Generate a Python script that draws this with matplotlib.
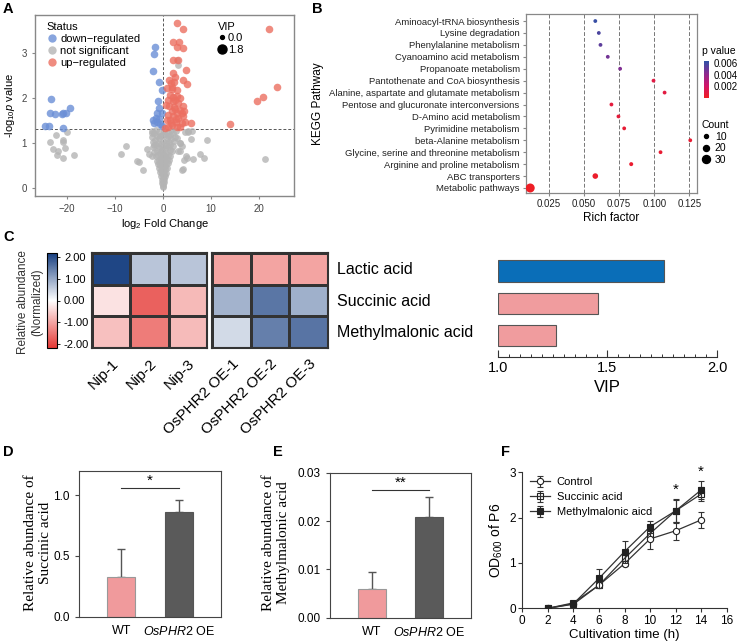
import matplotlib
matplotlib.use('Agg')
import matplotlib.pyplot as plt
import numpy as np
from matplotlib.colors import LinearSegmentedColormap, Normalize
from matplotlib.cm import ScalarMappable
from matplotlib.lines import Line2D

plt.rcParams['font.family'] = ['Liberation Sans', 'DejaVu Sans']
plt.rcParams['mathtext.fontset'] = 'custom'
plt.rcParams['mathtext.rm'] = 'Liberation Sans'
plt.rcParams['mathtext.it'] = 'Liberation Sans:italic'

# ---------------- data ----------------
# A: volcano plot (log2 fold change, -log10 p)
up_pts = [(2.85, 3.66), (4.10, 3.53), (2.15, 3.25), (3.40, 3.23), (2.85, 3.14), (4.10, 3.10),
          (2.01, 2.84), (3.19, 2.83), (4.79, 2.62), (2.15, 2.56), (2.50, 2.46), (2.29, 2.36),
          (4.10, 2.40), (4.93, 2.31), (0.90, 2.21), (1.81, 2.19), (2.85, 2.18), (1.46, 2.07),
          (2.15, 2.01), (1.11, 1.96), (3.54, 1.99), (2.01, 1.92), (3.19, 1.88), (4.10, 1.81),
          (1.32, 1.81), (2.29, 1.79), (1.81, 1.70), (2.85, 1.67), (3.89, 1.66), (1.11, 1.62),
          (2.15, 1.59), (3.19, 1.55), (4.24, 1.59), (1.46, 1.50), (2.71, 1.47), (3.89, 1.45),
          (0.76, 1.51), (1.81, 1.40), (2.85, 1.36), (1.11, 1.36), (3.54, 1.35), (5.76, 1.44),
          (4.58, 1.47), (2.50, 1.96), (1.60, 2.33), (0.50, 1.34), (1.60, 1.45), (2.40, 1.75),
          (3.00, 2.05), (1.30, 2.40), (2.60, 1.52), (3.60, 1.72), (0.60, 1.85), (4.40, 1.70),
          (1.90, 2.25), (13.96, 1.41), (19.65, 1.93), (20.76, 2.01), (23.68, 2.25), (22.15, 3.53)]
down_pts = [(-1.67, 3.14), (-1.81, 2.97), (-2.01, 2.59), (-0.76, 2.36), (-0.28, 2.18),
            (-1.11, 1.94), (-0.76, 1.77), (-1.32, 1.66), (-0.28, 1.66), (-2.15, 1.51),
            (-1.18, 1.47), (-1.88, 1.44), (-0.63, 1.42), (-0.28, 1.38), (-0.83, 1.53),
            (-1.46, 1.55), (-23.4, 1.97), (-23.5, 1.67), (-22.5, 1.64), (-21.1, 1.64),
            (-20.8, 1.66), (-20.2, 1.66), (-19.5, 1.77), (-24.6, 1.38), (-23.7, 1.38),
            (-20.9, 1.33)]
ns_pts = [(-20.1, 1.25), (-22.3, 1.18), (-20.9, 1.07), (-20.8, 1.03), (-23.5, 1.03), (-23.0, 0.86),
          (-21.9, 0.83), (-20.4, 0.88), (-22.1, 0.73), (-20.9, 0.66), (-18.5, 0.73), (-8.75, 0.75),
          (-7.7, 0.94), (-5.5, 0.60), (-5.0, 0.58), (-4.1, 0.40), (3.9, 0.40), (4.4, 0.62),
          (6.3, 0.64), (7.6, 0.75), (9.1, 1.07), (6.0, 1.27), (5.2, 1.27), (3.0, 2.84),
          (3.05, 2.73), (4.6, 1.25), (5.1, 1.25), (5.8, 1.09), (8.5, 0.67), (4.9, 0.67),
          (4.7, 0.70), (21.3, 0.65), (4.2, 0.42), (3.5, 0.81), (3.6, 1.00), (-3.4, 0.86),
          (-2.9, 0.76), (-2.4, 0.70), (-1.9, 0.96), (-2.4, 1.21), (2.85, 1.10), (3.5, 0.99),
          (3.2, 0.81), (3.9, 0.92),
          (-0.05, 0.02), (0.06, 0.04), (0.0, 0.08), (-0.15, 0.11), (0.18, 0.13), (-0.3, 0.18),
          (0.25, 0.20), (0.05, 0.22), (-0.45, 0.26), (0.42, 0.27), (-0.12, 0.30), (0.6, 0.33),
          (-0.6, 0.35), (0.15, 0.36), (-0.35, 0.40), (0.38, 0.42), (-0.8, 0.44), (0.82, 0.45),
          (0.0, 0.47), (-0.55, 0.50), (0.55, 0.52), (-1.0, 0.53), (1.05, 0.55), (-0.2, 0.56),
          (0.25, 0.58), (-1.25, 0.60), (1.3, 0.62), (-0.75, 0.63), (0.8, 0.65), (-0.4, 0.67),
          (0.45, 0.68), (-1.5, 0.70), (1.55, 0.71), (-1.05, 0.73), (1.1, 0.74), (0.05, 0.75),
          (-0.6, 0.77), (0.65, 0.78), (-1.8, 0.80), (1.85, 0.81), (-1.3, 0.83), (1.35, 0.84),
          (-0.25, 0.85), (0.3, 0.87), (-0.9, 0.88), (0.95, 0.90), (-2.0, 0.91), (2.1, 0.93),
          (-1.5, 0.95), (1.55, 0.96), (-0.5, 0.97), (0.55, 0.99), (-1.1, 1.00), (1.2, 1.01),
          (-2.2, 1.03), (2.3, 1.04), (0.0, 1.05), (-1.7, 1.07), (1.75, 1.08), (-0.8, 1.10),
          (0.85, 1.11), (-2.35, 1.13), (2.5, 1.14), (-1.3, 1.16), (1.4, 1.17), (-0.3, 1.18),
          (0.35, 1.20), (-1.95, 1.21), (2.0, 1.22), (-0.95, 1.24), (1.0, 1.25), (-2.4, 1.26),
          (2.6, 1.27), (-1.5, 1.28), (1.6, 1.28), (0.1, 1.27), (-0.1, 0.15), (0.1, 0.28),
          (-0.2, 0.38), (0.3, 0.48), (-0.35, 0.62), (0.2, 0.70), (-0.15, 0.90), (0.7, 0.95),
          (-0.65, 1.15), (1.1, 1.15)]

# B: KEGG enrichment
pathways = ['Aminoacyl-tRNA biosynthesis', 'Lysine degradation', 'Phenylalanine metabolism',
            'Cyanoamino acid metabolism', 'Propanoate metabolism',
            'Pantothenate and CoA biosynthesis', 'Alanine, aspartate and glutamate metabolism',
            'Pentose and glucuronate interconversions', 'D-Amino acid metabolism',
            'Pyrimidine metabolism', 'beta-Alanine metabolism',
            'Glycine, serine and threonine metabolism', 'Arginine and proline metabolism',
            'ABC transporters', 'Metabolic pathways']
rich = [0.058, 0.0605, 0.0617, 0.0669, 0.0757, 0.0995, 0.1074, 0.0695, 0.0745, 0.0786,
        0.1257, 0.1045, 0.0836, 0.058, 0.0116]
pvals = [0.0062, 0.0057, 0.0053, 0.0048, 0.0045, 0.0010, 0.0009, 0.0008, 0.0007, 0.0006,
         0.0005, 0.0005, 0.0004, 0.0003, 0.0001]
counts = [9, 9, 9, 9, 9, 9, 9, 9, 9, 9, 9, 9, 10, 18, 35]

# C: heatmap + VIP
metabolites = ['Lactic acid', 'Succinic acid', 'Methylmalonic acid']
samples = ['Nip-1', 'Nip-2', 'Nip-3', 'OsPHR2 OE-1', 'OsPHR2 OE-2', 'OsPHR2 OE-3']
heat = [[2.10, 0.66, 0.66, -1.00, -1.00, -1.00],
        [-0.31, -1.74, -0.77, 0.87, 1.56, 0.91],
        [-0.70, -1.45, -0.75, 0.42, 1.45, 1.58]]
vip = [1.757, 1.455, 1.264]

# D / E
groups = ['WT', r'$\it{OsPHR2}$ OE']
succ_mean = [0.325, 0.86]
succ_err = [0.233, 0.096]
mma_mean = [0.0059, 0.0209]
mma_err = [0.0035, 0.0040]

# F: growth curves
hours = [2, 4, 6, 8, 10, 12, 14]
ctrl = [0.0, 0.09, 0.51, 0.985, 1.53, 1.71, 1.95]
ctrl_err = [0.0, 0.03, 0.04, 0.05, 0.22, 0.20, 0.18]
succ = [0.0, 0.12, 0.51, 1.10, 1.65, 2.15, 2.52]
succ_err2 = [0.0, 0.03, 0.05, 0.08, 0.15, 0.25, 0.15]
mma = [0.0, 0.10, 0.66, 1.25, 1.80, 2.15, 2.61]
mma_err2 = [0.0, 0.03, 0.21, 0.24, 0.13, 0.27, 0.20]

# ---------------- figure ----------------
W, H = 738, 643
fig = plt.figure(figsize=(W / 100, H / 100), dpi=100)


def px_axes(l, t, r, b):
    return fig.add_axes([l / W, 1 - b / H, (r - l) / W, (b - t) / H])


def panel_label(x, y, s):
    fig.text(x / W, 1 - y / H, s, fontsize=10.5, fontweight='bold', ha='left', va='center')


# ---- A ----
axA = px_axes(35, 15, 294, 196)
ns = np.array(ns_pts)
dn = np.array(down_pts)
up = np.array(up_pts)
axA.scatter(ns[:, 0], ns[:, 1], s=24, color='#B4B4B4', alpha=0.8, lw=0, zorder=2)
axA.scatter(dn[:, 0], dn[:, 1], s=30, color='#6B8FD6', alpha=0.8, lw=0, zorder=3)
axA.scatter(up[:, 0], up[:, 1], s=30, color='#EC6F61', alpha=0.8, lw=0, zorder=3)
axA.axhline(1.3, ls=(0, (3, 2)), color='#555', lw=0.7, zorder=1)
axA.axvline(0, ls=(0, (3, 2)), color='#555', lw=0.7, zorder=1)
axA.set_xlim(-26.7, 27.3)
axA.set_ylim(-0.18, 3.84)
axA.set_xticks([-20, -10, 0, 10, 20])
axA.set_yticks([0, 1, 2, 3])
for s in axA.spines.values():
    s.set_color('#888')
    s.set_linewidth(1.0)
axA.tick_params(colors='#888', labelcolor='#444', labelsize=7, length=2.5)
axA.set_xlabel(r'log$_2$ Fold Change', fontsize=8, labelpad=2)
axA.set_ylabel(r'-log$_{10}$$\it{p}$ value', fontsize=8, labelpad=3)
h1 = [Line2D([], [], marker='o', ls='', color=c, alpha=0.8, ms=6, mew=0)
      for c in ['#6B8FD6', '#B4B4B4', '#EC6F61']]
leg1 = axA.legend(h1, ['down\u2212regulated', 'not significant', 'up\u2212regulated'],
                  title='Status', loc='upper left', bbox_to_anchor=(0.02, 1.0),
                  frameon=False, fontsize=8, title_fontsize=8, alignment='left',
                  handletextpad=0.2, labelspacing=0.2, borderaxespad=0.2, handlelength=1.0)
axA.add_artist(leg1)
h2 = [Line2D([], [], marker='o', ls='', color='black', ms=m) for m in [2.8, 6.5]]
axA.legend(h2, ['0.0', '1.8'], title='VIP', loc='upper left', bbox_to_anchor=(0.68, 1.0),
           frameon=False, fontsize=8, title_fontsize=8, alignment='left',
           handletextpad=0.1, labelspacing=0.15, borderaxespad=0.2, handlelength=0.8)

# ---- B ----
axB = px_axes(526, 14, 697, 193)
pcmap = LinearSegmentedColormap.from_list('pv', ['#F01E22', '#D0156A', '#8A2A90', '#2E52A6'])
pnorm = Normalize(vmin=0.0, vmax=0.0064)
ypos = np.arange(len(pathways))[::-1]
sizes = [(0.72 * (2.0 + 0.2 * c)) ** 2 for c in counts]
axB.scatter(rich, ypos, s=sizes, c=pvals, cmap=pcmap, norm=pnorm, lw=0, zorder=3)
for v in [0.025, 0.05, 0.075, 0.1, 0.125]:
    axB.axvline(v, ls=(0, (4, 2)), color='#777', lw=0.7, zorder=1)
axB.set_xlim(0.0086, 0.1305)
axB.set_ylim(-0.42, 14.59)
axB.set_xticks([0.025, 0.05, 0.075, 0.1, 0.125])
axB.set_xticklabels(['0.025', '0.050', '0.075', '0.100', '0.125'])
axB.set_yticks(ypos)
axB.set_yticklabels(pathways)
for s in axB.spines.values():
    s.set_color('#888')
    s.set_linewidth(0.9)
axB.tick_params(colors='#888', labelcolor='#222', labelsize=7, length=2.5, pad=2)
axB.tick_params(axis='y', labelsize=6.8)
axB.set_xlabel('Rich factor', fontsize=8.5, labelpad=2)
axB.set_ylabel('KEGG Pathway', fontsize=8.5, labelpad=4)

caxB = px_axes(704, 61, 709, 98)
cbB = fig.colorbar(ScalarMappable(norm=pnorm, cmap=pcmap), cax=caxB)
cbB.set_ticks([0.002, 0.004, 0.006])
cbB.ax.tick_params(labelsize=7, length=2, width=0.6, color='white', pad=1)
cbB.outline.set_visible(False)
fig.text(702 / W, 1 - 51 / H, 'p value', fontsize=7.5, ha='left', va='center')
hc = [Line2D([], [], marker='o', ls='', color='black', ms=0.72 * (2.0 + 0.2 * c))
      for c in [10, 20, 30]]
fig.legend(hc, ['10', '20', '30'], title='Count', loc='upper left',
           bbox_to_anchor=(697 / W, 1 - 116 / H), frameon=False, fontsize=7.5,
           title_fontsize=7.5, alignment='left', handletextpad=0.3, labelspacing=0.15,
           handlelength=1.0, borderaxespad=0)

# ---- C ----
hcmap = LinearSegmentedColormap.from_list('hm', ['#E53935', '#FFFFFF', '#163E80'])
hnorm = Normalize(vmin=-2.2, vmax=2.2)
heat_arr = np.array(heat)
blocks = [(92, 207, slice(0, 3)), (212, 328, slice(3, 6))]
for l, r, sl in blocks:
    axh = px_axes(l, 253, r, 348)
    axh.pcolormesh(heat_arr[:, sl], cmap=hcmap, norm=hnorm, edgecolors='#333', linewidth=0.9)
    axh.set_xlim(0, 3)
    axh.set_ylim(3, 0)
    axh.set_yticks([])
    axh.set_xticks(np.arange(3) + 0.5)
    axh.set_xticklabels(samples[sl], rotation=45, ha='right', rotation_mode='anchor',
                        fontsize=11)
    axh.tick_params(axis='x', length=0, pad=6)
    for s in axh.spines.values():
        s.set_color('#333')
        s.set_linewidth(1.5)
caxC = px_axes(47, 253, 57, 348)
cbC = fig.colorbar(ScalarMappable(norm=hnorm, cmap=hcmap), cax=caxC)
cbC.set_ticks([-2, -1, 0, 1, 2])
cbC.set_ticklabels(['-2.00', '-1.00', '0.00', '1.00', '2.00'])
cbC.ax.tick_params(labelsize=8, length=2, width=0.6, pad=3)
cbC.outline.set_linewidth(0.8)
fig.text(30 / W, 1 - 302 / H, 'Relative abundance\n(Normalized)', rotation=90,
         fontsize=8.5, ha='center', va='center', color='#333')
for i, name in enumerate(metabolites):
    fig.text(337 / W, 1 - (269 + 32 * i) / H, name, fontsize=11.5, ha='left', va='center')

axV = px_axes(497.7, 255, 717.3, 356.7)
axV.barh(np.arange(3), np.array(vip) - 1.0, left=1.0, height=0.65,
         color=['#0A6EB8', '#F09C9E', '#F09C9E'], edgecolor='#555', linewidth=0.8)
axV.set_xlim(1.0, 2.0)
axV.set_ylim(2.645, -0.494)
for k in ['top', 'right', 'left']:
    axV.spines[k].set_visible(False)
axV.spines['bottom'].set_color('#333')
axV.spines['bottom'].set_linewidth(0.8)
axV.set_yticks([])
axV.set_xticks([1.0, 1.5, 2.0])
axV.set_xticks(np.arange(1.0, 2.001, 0.05), minor=True)
axV.tick_params(axis='x', which='major', direction='in', length=5, width=0.8,
                labelsize=10.5, pad=3, color='#333')
axV.tick_params(axis='x', which='minor', direction='in', length=2.5, width=0.7, color='#333')
axV.set_xlabel('VIP', fontsize=12, labelpad=4)

# ---- D / E ----
def bar_panel(box, means, errs, ylim, yticks, ylabels, star, star_y, ylabel, lab_x):
    ax = px_axes(*box)
    x = np.arange(2)
    ax.bar(x, means, width=0.48, color=['#F09A9C', '#5A5A5A'], edgecolor=['#999', '#555'],
           linewidth=0.8, zorder=2)
    ax.errorbar(x, means, yerr=[[0, 0], errs], fmt='none', ecolor='#555', elinewidth=1.0,
                capsize=3, capthick=1.0, zorder=1)
    ax.plot([0, 1], [star_y, star_y], color='#333', lw=0.8)
    ax.text(0.5, star_y, star, ha='center', va='bottom', fontsize=11)
    ax.set_xlim(-0.734, 1.735)
    ax.set_ylim(*ylim)
    ax.set_yticks(yticks)
    ax.set_yticklabels(ylabels)
    ax.set_xticks(x)
    ax.set_xticklabels(groups)
    for s in ax.spines.values():
        s.set_color('#444')
        s.set_linewidth(0.8)
    ax.tick_params(axis='y', labelsize=8.5, length=3, width=0.8, color='#444')
    ax.tick_params(axis='x', labelsize=9, length=0, pad=6)
    fig.text(lab_x / W, 1 - 543 / H, ylabel, rotation=90, ha='center', va='center',
             fontsize=11, family='Liberation Serif')
    return ax


bar_panel((79, 470.7, 221, 616.7), succ_mean, succ_err, (0, 1.2), [0.0, 0.5, 1.0],
          ['0.0', '0.5', '1.0'], '*', 1.058, 'Relative abundance of\nSuccinic acid', 38)
bar_panel((330, 472.7, 471, 617.7), mma_mean, mma_err, (0, 0.03), [0, 0.01, 0.02, 0.03],
          ['0.00', '0.01', '0.02', '0.03'], '**', 0.0264,
          'Relative abundance of\nMethylmalonic acid', 276.5)

# ---- F ----
axF = px_axes(522.3, 472.3, 726.7, 608.3)
kw = dict(color='#333', lw=0.9, ms=4.5, mec='#222', mew=0.8, capsize=2.5, elinewidth=0.8,
          capthick=0.8)
axF.errorbar(hours, ctrl, yerr=ctrl_err, marker='o', mfc='white', label='Control', zorder=3, **kw)
axF.errorbar(hours, succ, yerr=succ_err2, marker='s', mfc='none', label='Succinic acid',
             zorder=2, **kw)
axF.errorbar(hours, mma, yerr=mma_err2, marker='s', mfc='#222', label='Methylmalonic aicd',
             zorder=4, **kw)
axF.text(12, 2.45, '*', ha='center', va='bottom', fontsize=11)
axF.text(14, 2.85, '*', ha='center', va='bottom', fontsize=11)
axF.set_xlim(0, 16)
axF.set_ylim(0, 3)
axF.set_xticks(range(0, 17, 2))
axF.set_yticks([0, 1, 2, 3])
for k in ['top', 'right']:
    axF.spines[k].set_visible(False)
for k in ['left', 'bottom']:
    axF.spines[k].set_color('#333')
    axF.spines[k].set_linewidth(0.8)
axF.tick_params(labelsize=8.5, length=3, width=0.8, color='#333', pad=1.5)
axF.set_xlabel('Cultivation time (h)', fontsize=9.5, labelpad=2)
axF.set_ylabel(r'OD$_{600}$ of P6', fontsize=10, labelpad=3)
axF.legend(loc='upper left', bbox_to_anchor=(0.0, 1.02), frameon=False, fontsize=8,
           handlelength=1.8, handletextpad=0.6, labelspacing=0.45, borderaxespad=0.3)

panel_label(3, 9, 'A')
panel_label(312, 9, 'B')
panel_label(3, 237, 'C')
panel_label(3, 452, 'D')
panel_label(273, 452, 'E')
panel_label(501, 452, 'F')

fig.savefig('out.png', dpi=100)
